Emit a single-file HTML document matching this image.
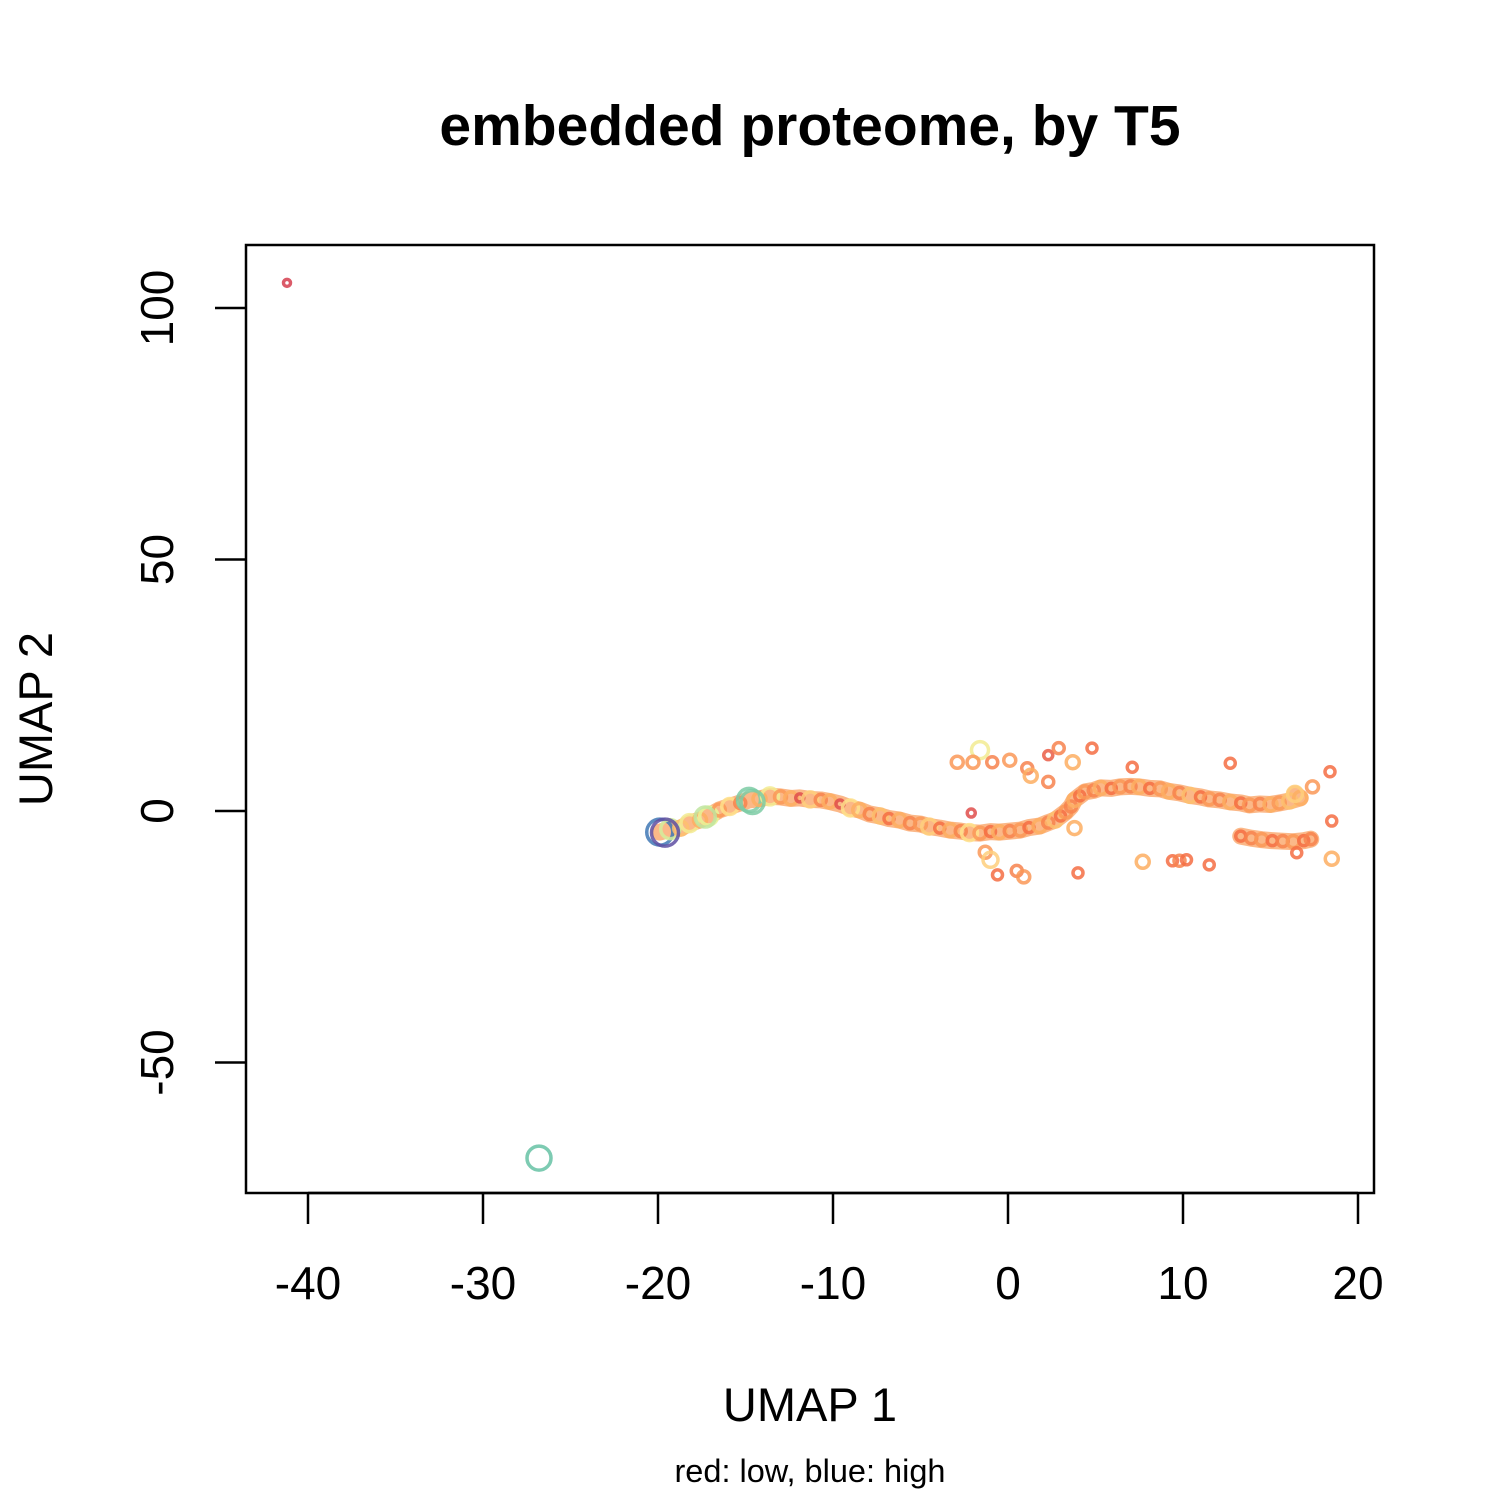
<!DOCTYPE html>
<html><head><meta charset="utf-8"><style>
body{margin:0;background:#fff}
svg text{font-family:"Liberation Sans",sans-serif}
</style></head><body>
<svg id="chart" width="1500" height="1500" xmlns="http://www.w3.org/2000/svg">
<rect width="1500" height="1500" fill="#fff"/>
<text x="810" y="145" font-size="57" font-weight="bold" text-anchor="middle">embedded proteome, by T5</text>
<g id="under"></g>
<g id="marks"></g>
<rect x="246" y="245" width="1128" height="948" fill="none" stroke="#000" stroke-width="2.5"/>
<g id="xaxis"></g>
<g id="yaxis"></g>
<text x="810" y="1421" font-size="47" text-anchor="middle">UMAP 1</text>
<text transform="translate(52,719) rotate(-90)" font-size="47" text-anchor="middle">UMAP 2</text>
<text x="810" y="1482" font-size="32.5" text-anchor="middle">red: low, blue: high</text>
</svg>
<script>
const xTicks=[-40,-30,-20,-10,0,10,20];
const yTicks=[-50,0,50,100];
// strand points
const strandX=[-19.9,-19.3,-18.7,-18.2,-17.6,-17.1,-16.5,-15.9,-15.3,-14.8,-14.2,-13.6,-13.0,-12.4,-11.9,-11.3,-10.7,-10.2,-9.6,-9.0,-8.5,-7.9,-7.3,-6.8,-6.2,-5.6,-5.0,-4.5,-3.9,-3.3,-2.7,-2.2,-1.6,-1.0,-0.5,0.1,0.7,1.2,1.8,2.3,2.7,3.0,3.3,3.6,3.8,4.1,4.4,4.9,5.3,5.9,6.4,7.0,7.5,8.1,8.7,9.2,9.8,10.4,11.0,11.5,12.1,12.7,13.3,13.8,14.4,15.0,15.5,16.1,16.7,16.4,13.3,13.9,14.5,15.1,15.7,16.3,16.9,17.3];
const strandY=[-4.2,-3.6,-3.4,-2.4,-1.8,-1.0,0.2,0.9,1.6,2.2,2.4,2.9,2.8,2.5,2.6,2.3,2.2,1.9,1.4,0.6,0.2,-0.6,-1.0,-1.5,-1.8,-2.4,-2.6,-3.1,-3.4,-3.8,-4.0,-4.3,-4.4,-4.1,-4.2,-4.0,-3.8,-3.3,-3.0,-2.3,-1.8,-1.0,-0.2,0.9,2.2,3.0,3.8,4.1,4.6,4.5,4.8,4.9,4.8,4.5,4.4,3.9,3.6,3.1,2.8,2.4,2.2,1.8,1.6,1.2,1.4,1.3,1.6,2.0,2.6,3.4,-5.0,-5.4,-5.7,-5.9,-6.0,-6.1,-5.9,-5.6];
const strandV=[0.95,0.6,0.35,0.5,0.3,0.55,0.25,0.45,0.2,0.8,0.3,0.5,0.25,0.3,0.05,0.4,0.2,0.3,0.05,0.45,0.3,0.2,0.35,0.15,0.3,0.2,0.25,0.4,0.15,0.3,0.2,0.45,0.25,0.15,0.3,0.2,0.25,0.15,0.3,0.2,0.35,0.15,0.25,0.2,0.3,0.15,0.25,0.2,0.3,0.15,0.25,0.2,0.3,0.15,0.25,0.3,0.2,0.35,0.15,0.25,0.2,0.3,0.15,0.25,0.2,0.3,0.25,0.35,0.3,0.4,0.15,0.2,0.25,0.15,0.2,0.25,0.15,0.2];
// scattered outliers
const outX=[-1.6,-2.9,-2.0,-0.9,0.1,1.1,1.3,2.3,2.3,2.9,3.7,4.8,7.1,12.7,18.4,17.4,18.5,18.5,16.5,7.7,9.4,9.8,10.2,11.5,4.0,-1.3,-1.0,-0.6,0.5,0.9,-2.1,3.8,-41.2,-26.8,-19.6,-14.6,-17.3];
const outY=[12.1,9.7,9.7,9.7,10.1,8.5,7.0,11.1,5.8,12.5,9.7,12.5,8.7,9.5,7.8,4.8,-2.0,-9.5,-8.3,-10.1,-9.9,-9.9,-9.7,-10.7,-12.3,-8.2,-9.7,-12.7,-11.9,-13.1,-0.4,-3.4,105,-69,-4.3,1.8,-1.2];
const outV=[0.5,0.25,0.25,0.2,0.25,0.2,0.3,0.1,0.2,0.2,0.3,0.15,0.15,0.15,0.15,0.25,0.15,0.3,0.15,0.3,0.15,0.2,0.15,0.15,0.15,0.25,0.4,0.15,0.2,0.25,0.05,0.3,0.0,0.85,1.0,0.8,0.65];

const sx=v=>1008+v*17.5, sy=v=>811-v*5.03;
const NS="http://www.w3.org/2000/svg";
const stops=[[0,[213,62,79]],[0.15,[244,109,67]],[0.3,[253,174,97]],[0.45,[254,224,139]],[0.55,[230,245,152]],[0.7,[171,221,164]],[0.85,[102,194,165]],[0.93,[50,136,189]],[1,[94,79,162]]];
function col(v){for(let i=1;i<stops.length;i++){if(v<=stops[i][0]){const a=stops[i-1],b=stops[i],t=(v-a[0])/(b[0]-a[0]);return `rgb(${a[1].map((c,k)=>Math.round(c+(b[1][k]-c)*t)).join(',')})`;}}return 'rgb(94,79,162)';}
// underlay band following strand data
const u=document.getElementById('under');
function band(i0,i1,name){const p=document.createElementNS(NS,'polyline');
let s='';for(let i=i0;i<i1;i++)s+=sx(strandX[i])+','+sy(strandY[i])+' ';
p.setAttribute('points',s);p.setAttribute('fill','none');p.setAttribute('stroke','#f9a060');p.setAttribute('stroke-width',17);p.setAttribute('stroke-linecap','round');p.setAttribute('stroke-linejoin','round');p.setAttribute('stroke-opacity',0.75);


u.appendChild(p);}
band(0,70,'main-strand-band');band(70,78,'lower-branch-band');
const g=document.getElementById('marks');
function pt(x,y,v,name){const c=document.createElementNS(NS,'circle');
c.setAttribute('cx',sx(x));c.setAttribute('cy',sy(y));c.setAttribute('r',3.5+10*v);
c.setAttribute('fill','none');c.setAttribute('stroke',col(v));c.setAttribute('stroke-width',3.5);c.setAttribute('stroke-opacity',0.85);


g.appendChild(c);}
strandX.forEach((x,i)=>pt(x,strandY[i],strandV[i],'strand-point'));
outX.forEach((x,i)=>pt(x,outY[i],outV[i],'outlier-point'));
const xa=document.getElementById('xaxis');
xTicks.forEach(t=>{const l=document.createElementNS(NS,'line');l.setAttribute('x1',sx(t));l.setAttribute('x2',sx(t));l.setAttribute('y1',1193);l.setAttribute('y2',1224);l.setAttribute('stroke','#000');l.setAttribute('stroke-width',2.5);


xa.appendChild(l);
const tx=document.createElementNS(NS,'text');tx.setAttribute('x',sx(t));tx.setAttribute('y',1299);tx.setAttribute('font-size',46);tx.setAttribute('text-anchor','middle');tx.textContent=t;


xa.appendChild(tx);});
const bl=document.createElementNS(NS,'line');bl.setAttribute('x1',sx(-40));bl.setAttribute('x2',sx(20));bl.setAttribute('y1',1193);bl.setAttribute('y2',1193);bl.setAttribute('stroke','#000');bl.setAttribute('stroke-width',2.5);


xa.appendChild(bl);
const ya=document.getElementById('yaxis');
yTicks.forEach(t=>{const l=document.createElementNS(NS,'line');l.setAttribute('x1',215);l.setAttribute('x2',246);l.setAttribute('y1',sy(t));l.setAttribute('y2',sy(t));l.setAttribute('stroke','#000');l.setAttribute('stroke-width',2.5);


ya.appendChild(l);
const tx=document.createElementNS(NS,'text');tx.setAttribute('transform',`translate(173,${sy(t)}) rotate(-90)`);tx.setAttribute('font-size',46);tx.setAttribute('text-anchor','middle');tx.textContent=t;


ya.appendChild(tx);});
</script>
</body></html>
